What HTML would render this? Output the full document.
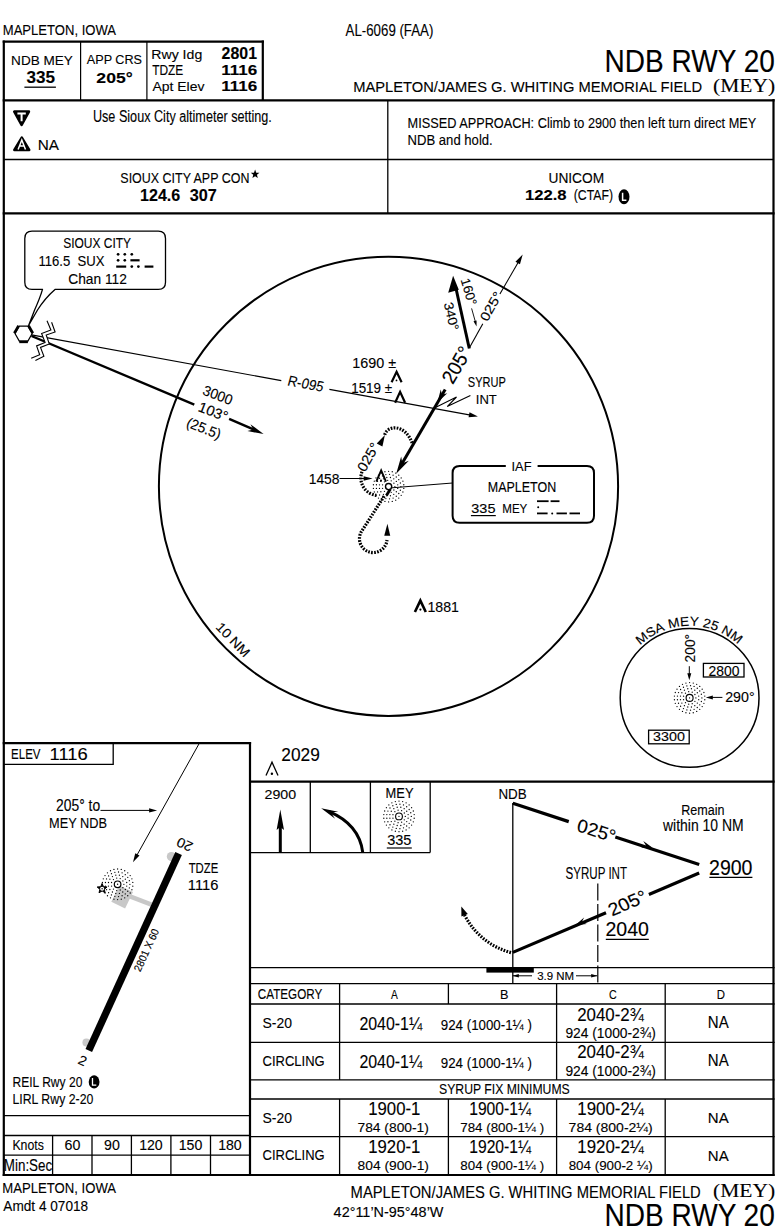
<!DOCTYPE html>
<html><head><meta charset="utf-8"><title>NDB RWY 20 - Mapleton</title>
<style>html,body{margin:0;padding:0;background:#fff;}body{width:778px;height:1232px;overflow:hidden;font-family:"Liberation Sans",sans-serif;}svg{display:block;}</style>
</head><body>
<svg width="778" height="1232" viewBox="0 0 778 1232"><style>text{stroke:#000;stroke-width:0.12px;}</style><line x1="3.8" y1="40.5" x2="3.8" y2="1176" stroke="#000" stroke-width="2.2" />
<line x1="773.5" y1="99" x2="773.5" y2="1176" stroke="#000" stroke-width="2.2" />
<line x1="2.7" y1="41.6" x2="263.9" y2="41.6" stroke="#000" stroke-width="2.2" />
<line x1="262.8" y1="40.5" x2="262.8" y2="100.5" stroke="#000" stroke-width="2.2" />
<line x1="80.6" y1="41.6" x2="80.6" y2="100.5" stroke="#000" stroke-width="1.2" />
<line x1="146.9" y1="41.6" x2="146.9" y2="100.5" stroke="#000" stroke-width="1.2" />
<line x1="2.7" y1="100.4" x2="774.6" y2="100.4" stroke="#000" stroke-width="2.2" />
<line x1="3.8" y1="159.6" x2="773.5" y2="159.6" stroke="#000" stroke-width="1.5" />
<line x1="387.8" y1="100.4" x2="387.8" y2="213.3" stroke="#000" stroke-width="1.3" />
<line x1="2.7" y1="213.3" x2="774.6" y2="213.3" stroke="#000" stroke-width="2.2" />
<text x="2.75" y="34.90" font-family="Liberation Sans" font-size="15.00" font-weight="normal" font-style="normal" textLength="113.29" lengthAdjust="spacingAndGlyphs" fill="#000" >MAPLETON, IOWA</text>
<text x="345.60" y="35.90" font-family="Liberation Sans" font-size="15.65" font-weight="normal" font-style="normal" textLength="87.76" lengthAdjust="spacingAndGlyphs" fill="#000" >AL-6069 (FAA)</text>
<text x="604.46" y="71.70" font-family="Liberation Sans" font-size="30.57" font-weight="normal" font-style="normal" textLength="170.36" lengthAdjust="spacingAndGlyphs" fill="#000" >NDB RWY 20</text>
<text x="353.22" y="92.40" font-family="Liberation Sans" font-size="15.45" font-weight="normal" font-style="normal" textLength="348.95" lengthAdjust="spacingAndGlyphs" fill="#000" >MAPLETON/JAMES G. WHITING MEMORIAL FIELD</text>
<text x="713.03" y="92.00" font-family="Liberation Serif" font-size="18.93" font-weight="normal" font-style="normal" textLength="62.10" lengthAdjust="spacingAndGlyphs" fill="#000" >(MEY)</text>
<text x="11.12" y="65.00" font-family="Liberation Sans" font-size="13.48" font-weight="normal" font-style="normal" textLength="61.77" lengthAdjust="spacingAndGlyphs" fill="#000" >NDB MEY</text>
<text x="26.57" y="83.30" font-family="Liberation Sans" font-size="15.57" font-weight="bold" font-style="normal" textLength="28.51" lengthAdjust="spacingAndGlyphs" fill="#000" >335</text>
<line x1="24.4" y1="87.2" x2="55.9" y2="87.2" stroke="#000" stroke-width="1.3" />
<text x="86.80" y="63.80" font-family="Liberation Sans" font-size="12.57" font-weight="normal" font-style="normal" textLength="55.20" lengthAdjust="spacingAndGlyphs" fill="#000" >APP CRS</text>
<text x="96.38" y="82.60" font-family="Liberation Sans" font-size="15.43" font-weight="bold" font-style="normal" textLength="36.38" lengthAdjust="spacingAndGlyphs" fill="#000" >205°</text>
<text x="151.27" y="59.00" font-family="Liberation Sans" font-size="13.48" font-weight="normal" font-style="normal" textLength="50.98" lengthAdjust="spacingAndGlyphs" fill="#000" >Rwy Idg</text>
<text x="221.64" y="59.10" font-family="Liberation Sans" font-size="15.57" font-weight="bold" font-style="normal" textLength="35.35" lengthAdjust="spacingAndGlyphs" fill="#000" >2801</text>
<text x="152.16" y="74.90" font-family="Liberation Sans" font-size="14.20" font-weight="normal" font-style="normal" textLength="31.13" lengthAdjust="spacingAndGlyphs" fill="#000" >TDZE</text>
<text x="221.18" y="75.00" font-family="Liberation Sans" font-size="15.14" font-weight="bold" font-style="normal" textLength="36.01" lengthAdjust="spacingAndGlyphs" fill="#000" >1116</text>
<text x="152.40" y="90.60" font-family="Liberation Sans" font-size="13.62" font-weight="normal" font-style="normal" textLength="52.06" lengthAdjust="spacingAndGlyphs" fill="#000" >Apt Elev</text>
<text x="221.18" y="90.80" font-family="Liberation Sans" font-size="14.86" font-weight="bold" font-style="normal" textLength="36.01" lengthAdjust="spacingAndGlyphs" fill="#000" >1116</text>
<path d="M14.3,111.6 L28.9,111.6 L21.6,124.9 Z" stroke="#000" stroke-width="2.6" fill="#000" stroke-linejoin="round"/>
<path d="M17.4,113.6 L25.8,113.6 M21.6,113.6 L21.6,121.2" stroke="#fff" stroke-width="2.0" fill="none"/>
<path d="M21.8,137.6 L29.2,150.0 L14.4,150.0 Z" stroke="#000" stroke-width="2.6" fill="#000" stroke-linejoin="round"/>
<path d="M18.1,149.4 L21.8,140.0 L25.5,149.4 M19.4,146.0 L24.2,146.0" stroke="#fff" stroke-width="1.5" fill="none"/>
<text x="92.95" y="122.20" font-family="Liberation Sans" font-size="15.65" font-weight="normal" font-style="normal" textLength="178.91" lengthAdjust="spacingAndGlyphs" fill="#000" >Use Sioux City altimeter setting.</text>
<text x="37.77" y="150.00" font-family="Liberation Sans" font-size="14.49" font-weight="normal" font-style="normal" textLength="21.29" lengthAdjust="spacingAndGlyphs" fill="#000" >NA</text>
<text x="407.58" y="128.20" font-family="Liberation Sans" font-size="13.91" font-weight="normal" font-style="normal" textLength="348.67" lengthAdjust="spacingAndGlyphs" fill="#000" >MISSED APPROACH: Climb to 2900 then left turn direct MEY</text>
<text x="407.55" y="145.10" font-family="Liberation Sans" font-size="13.77" font-weight="normal" font-style="normal" textLength="85.18" lengthAdjust="spacingAndGlyphs" fill="#000" >NDB and hold.</text>
<text x="120.34" y="183.40" font-family="Liberation Sans" font-size="13.71" font-weight="normal" font-style="normal" textLength="129.06" lengthAdjust="spacingAndGlyphs" fill="#000" >SIOUX CITY APP CON</text>
<polygon points="255.10,169.60 256.24,172.64 259.47,172.78 256.94,174.80 257.80,177.92 255.10,176.13 252.40,177.92 253.26,174.80 250.73,172.78 253.96,172.64" fill="#000"/>
<text x="140.04" y="201.20" font-family="Liberation Sans" font-size="16.29" font-weight="bold" font-style="normal" textLength="40.16" lengthAdjust="spacingAndGlyphs" fill="#000" >124.6</text>
<text x="189.79" y="201.20" font-family="Liberation Sans" font-size="16.29" font-weight="bold" font-style="normal" textLength="27.11" lengthAdjust="spacingAndGlyphs" fill="#000" >307</text>
<text x="548.47" y="182.60" font-family="Liberation Sans" font-size="13.71" font-weight="normal" font-style="normal" textLength="55.70" lengthAdjust="spacingAndGlyphs" fill="#000" >UNICOM</text>
<text x="524.90" y="200.40" font-family="Liberation Sans" font-size="15.43" font-weight="bold" font-style="normal" textLength="41.64" lengthAdjust="spacingAndGlyphs" fill="#000" >122.8</text>
<text x="573.77" y="200.40" font-family="Liberation Sans" font-size="13.71" font-weight="normal" font-style="normal" textLength="39.20" lengthAdjust="spacingAndGlyphs" fill="#000" >(CTAF)</text>
<ellipse cx="624.0" cy="196.7" rx="5.5" ry="7.5" fill="#000"/>
<path d="M622.6,192.8 L622.6,200.2 L626.4,200.2" stroke="#fff" stroke-width="1.5" fill="none"/>
<circle cx="388.5" cy="486.3" r="229.6" stroke="#000" stroke-width="2.0" fill="none"/>
<text transform="translate(233.00,639.60) rotate(46.00) skewX(0.00)" x="-21.08" y="4.70" font-family="Liberation Sans" font-size="13.43" font-weight="normal" font-style="normal" textLength="42.30" lengthAdjust="spacingAndGlyphs" fill="#000">10 NM</text>
<path d="M32,231.2 L158.3,231.2 Q165.5,231.2 165.5,238.4 L165.5,282.2 Q165.5,289.4 158.3,289.4 L55,289.4 Q45,298 37.5,310 L28.6,325.5 L34.6,310 Q40,298 42.5,289.4 L32,289.4 Q24.8,289.4 24.8,282.2 L24.8,238.4 Q24.8,231.2 32,231.2 Z" stroke="#000" stroke-width="1.3" fill="#fff" stroke-linejoin="round"/>
<text x="63.16" y="247.80" font-family="Liberation Sans" font-size="14.00" font-weight="normal" font-style="normal" textLength="67.91" lengthAdjust="spacingAndGlyphs" fill="#000" >SIOUX CITY</text>
<text x="38.42" y="266.30" font-family="Liberation Sans" font-size="13.86" font-weight="normal" font-style="normal" textLength="66.05" lengthAdjust="spacingAndGlyphs" fill="#000" >116.5  SUX</text>
<text x="68.31" y="284.40" font-family="Liberation Sans" font-size="14.29" font-weight="normal" font-style="normal" textLength="58.61" lengthAdjust="spacingAndGlyphs" fill="#000" >Chan 112</text>
<circle cx="118.1" cy="254.3" r="1.35" fill="#000"/>
<circle cx="124.8" cy="254.3" r="1.35" fill="#000"/>
<circle cx="131.8" cy="254.3" r="1.35" fill="#000"/>
<circle cx="118.1" cy="260.3" r="1.35" fill="#000"/>
<circle cx="124.8" cy="260.3" r="1.35" fill="#000"/>
<line x1="130.4" y1="260.3" x2="139.6" y2="260.3" stroke="#000" stroke-width="2.2" />
<line x1="116.2" y1="266.6" x2="126.2" y2="266.6" stroke="#000" stroke-width="2.2" />
<circle cx="131.8" cy="266.6" r="1.35" fill="#000"/>
<circle cx="138.4" cy="266.6" r="1.35" fill="#000"/>
<line x1="144.6" y1="266.6" x2="153.4" y2="266.6" stroke="#000" stroke-width="2.2" />
<polygon points="15.00,333.60 19.30,326.15 27.90,326.15 32.20,333.60 27.90,341.05 19.30,341.05" fill="#fff" stroke="#000" stroke-width="1.2"/>
<line x1="14.30717967697245" y1="333.20000000000005" x2="18.607179676972446" y2="325.7521815274539" stroke="#000" stroke-width="2.6" />
<line x1="28.592820323027553" y1="325.7521815274539" x2="32.89282032302756" y2="333.20000000000005" stroke="#000" stroke-width="2.6" />
<line x1="27.900000000000002" y1="341.8478184725462" x2="19.300000000000004" y2="341.8478184725462" stroke="#000" stroke-width="2.6" />
<line x1="31.5" y1="334.9" x2="281.3" y2="380.6" stroke="#000" stroke-width="1.1" />
<line x1="329.4" y1="389.4" x2="472.0" y2="415.4" stroke="#000" stroke-width="1.1" />
<polygon points="477.90,416.40 468.58,417.35 469.51,412.23" fill="#000"/>
<text transform="translate(306.00,383.80) rotate(10.30) skewX(-5.00)" x="-18.31" y="5.00" font-family="Liberation Sans" font-size="14.49" font-weight="normal" font-style="normal" textLength="36.07" lengthAdjust="spacingAndGlyphs" fill="#000">R-095</text>
<line x1="31.5" y1="336.0" x2="194.3" y2="404.6" stroke="#000" stroke-width="2.4" />
<line x1="229.1" y1="418.8" x2="254.0" y2="429.7" stroke="#000" stroke-width="2.4" />
<polygon points="263.60,434.00 247.41,431.11 253.33,429.53 250.44,424.14" fill="#000"/>
<text transform="translate(217.90,395.00) rotate(21.00) skewX(0.00)" x="-15.30" y="5.00" font-family="Liberation Sans" font-size="14.29" font-weight="normal" font-style="normal" textLength="30.52" lengthAdjust="spacingAndGlyphs" fill="#000">3000</text>
<text transform="translate(213.40,411.60) rotate(21.00) skewX(0.00)" x="-15.35" y="5.00" font-family="Liberation Sans" font-size="14.29" font-weight="normal" font-style="normal" textLength="30.47" lengthAdjust="spacingAndGlyphs" fill="#000">103°</text>
<text transform="translate(203.80,428.20) rotate(21.00) skewX(0.00)" x="-17.82" y="5.00" font-family="Liberation Sans" font-size="14.29" font-weight="normal" font-style="normal" textLength="35.67" lengthAdjust="spacingAndGlyphs" fill="#000">(25.5)</text>
<polygon points="47.00,320.80 50.90,330.00 41.60,333.50 45.10,342.40 36.60,345.90 39.70,354.70 31.20,358.20 35.40,360.50 43.90,356.30 40.50,347.40 49.30,343.90 46.20,335.00 55.10,332.00 51.60,322.30" fill="#fff"/>
<polyline points="47.0,320.8 50.9,330.0 41.6,333.5 45.1,342.4 36.6,345.9 39.7,354.7 31.2,358.2" fill="none" stroke="#000" stroke-width="1.1" stroke-linejoin="miter"/>
<polyline points="51.6,322.3 55.1,332.0 46.2,335.0 49.3,343.9 40.5,347.4 43.9,356.3 35.4,360.5" fill="none" stroke="#000" stroke-width="1.1" stroke-linejoin="miter"/>
<text x="352.32" y="368.30" font-family="Liberation Sans" font-size="14.14" font-weight="normal" font-style="normal" textLength="43.86" lengthAdjust="spacingAndGlyphs" fill="#000" >1690 ±</text>
<text x="351.19" y="392.50" font-family="Liberation Sans" font-size="14.00" font-weight="normal" font-style="normal" textLength="40.96" lengthAdjust="spacingAndGlyphs" fill="#000" >1519 ±</text>
<path d="M391.6,382.2 L396.6,371.8 L401.6,382.2" stroke="#000" stroke-width="2.2" fill="none" stroke-linejoin="miter"/>
<circle cx="396.5" cy="380.4" r="0.9" fill="#000"/>
<path d="M395.1,402.8 L400.1,391.8 L405.1,402.8" stroke="#000" stroke-width="2.2" fill="none" stroke-linejoin="miter"/>
<line x1="445.1948051948052" y1="389.4" x2="400.5943722943723" y2="466.0" stroke="#000" stroke-width="3.0" />
<polygon points="396.20,473.80 401.18,456.46 402.35,463.21 408.79,460.87" fill="#000"/>
<polygon points="437.40,402.60 440.74,389.47 442.03,394.76 447.28,393.34" fill="#000"/>
<text transform="translate(456.40,365.00) rotate(-59.79) skewX(0.00)" x="-19.44" y="7.00" font-family="Liberation Sans" font-size="20.00" font-weight="normal" font-style="normal" textLength="39.05" lengthAdjust="spacingAndGlyphs" fill="#000">205°</text>
<line x1="469.3" y1="348.5" x2="456.0" y2="288.5" stroke="#000" stroke-width="3.0" />
<polygon points="453.10,275.80 448.20,292.80 458.80,289.80" fill="#000"/>
<text transform="translate(451.40,316.20) rotate(77.00) skewX(0.00)" x="-14.05" y="4.60" font-family="Liberation Sans" font-size="13.14" font-weight="normal" font-style="normal" textLength="28.35" lengthAdjust="spacingAndGlyphs" fill="#000">340°</text>
<text transform="translate(469.00,291.80) rotate(73.00) skewX(0.00)" x="-14.01" y="4.60" font-family="Liberation Sans" font-size="13.14" font-weight="normal" font-style="normal" textLength="27.79" lengthAdjust="spacingAndGlyphs" fill="#000">160°</text>
<line x1="471.6" y1="308.4" x2="475.6" y2="322.6" stroke="#000" stroke-width="0.9" />
<polygon points="476.60,326.60 473.47,321.24 476.55,320.39" fill="#000"/>
<line x1="469.3" y1="348.0" x2="482.8" y2="323.8" stroke="#000" stroke-width="1.1" />
<line x1="499.9" y1="294.0" x2="520.0" y2="259.2" stroke="#000" stroke-width="1.1" />
<polygon points="522.70,254.40 519.96,264.36 515.46,261.77" fill="#000"/>
<text transform="translate(490.90,306.40) rotate(-60.30) skewX(0.00)" x="-15.61" y="4.60" font-family="Liberation Sans" font-size="13.14" font-weight="normal" font-style="normal" textLength="31.50" lengthAdjust="spacingAndGlyphs" fill="#000">025°</text>
<text x="467.80" y="387.40" font-family="Liberation Sans" font-size="13.71" font-weight="normal" font-style="normal" textLength="38.05" lengthAdjust="spacingAndGlyphs" fill="#000" >SYRUP</text>
<text x="475.82" y="404.40" font-family="Liberation Sans" font-size="13.62" font-weight="normal" font-style="normal" textLength="21.05" lengthAdjust="spacingAndGlyphs" fill="#000" >INT</text>
<polyline points="434.4,407.9 456.5,397.0 447.2,406.6 470.4,395.5" fill="none" stroke="#000" stroke-width="1.1"/>
<g fill="#000"><circle cx="394.90" cy="486.60" r="0.66"/><circle cx="393.90" cy="490.01" r="0.66"/><circle cx="391.22" cy="492.33" r="0.66"/><circle cx="387.70" cy="492.84" r="0.66"/><circle cx="384.47" cy="491.36" r="0.66"/><circle cx="382.56" cy="488.37" r="0.66"/><circle cx="382.56" cy="484.83" r="0.66"/><circle cx="384.47" cy="481.84" r="0.66"/><circle cx="387.70" cy="480.36" r="0.66"/><circle cx="391.22" cy="480.87" r="0.66"/><circle cx="393.90" cy="483.19" r="0.66"/><circle cx="397.72" cy="488.41" r="0.66"/><circle cx="396.33" cy="491.77" r="0.66"/><circle cx="393.77" cy="494.33" r="0.66"/><circle cx="390.41" cy="495.72" r="0.66"/><circle cx="386.79" cy="495.72" r="0.66"/><circle cx="383.43" cy="494.33" r="0.66"/><circle cx="380.87" cy="491.77" r="0.66"/><circle cx="379.48" cy="488.41" r="0.66"/><circle cx="379.48" cy="484.79" r="0.66"/><circle cx="380.87" cy="481.43" r="0.66"/><circle cx="383.43" cy="478.87" r="0.66"/><circle cx="386.79" cy="477.48" r="0.66"/><circle cx="390.41" cy="477.48" r="0.66"/><circle cx="393.77" cy="478.87" r="0.66"/><circle cx="396.33" cy="481.43" r="0.66"/><circle cx="397.72" cy="484.79" r="0.66"/><circle cx="400.35" cy="490.23" r="0.66"/><circle cx="398.76" cy="493.53" r="0.66"/><circle cx="396.27" cy="496.22" r="0.66"/><circle cx="393.09" cy="498.05" r="0.66"/><circle cx="389.52" cy="498.87" r="0.66"/><circle cx="385.86" cy="498.59" r="0.66"/><circle cx="382.45" cy="497.25" r="0.66"/><circle cx="379.58" cy="494.97" r="0.66"/><circle cx="377.52" cy="491.94" r="0.66"/><circle cx="376.44" cy="488.43" r="0.66"/><circle cx="376.44" cy="484.77" r="0.66"/><circle cx="377.52" cy="481.26" r="0.66"/><circle cx="379.58" cy="478.23" r="0.66"/><circle cx="382.45" cy="475.95" r="0.66"/><circle cx="385.86" cy="474.61" r="0.66"/><circle cx="389.52" cy="474.33" r="0.66"/><circle cx="393.09" cy="475.15" r="0.66"/><circle cx="396.27" cy="476.98" r="0.66"/><circle cx="398.76" cy="479.67" r="0.66"/><circle cx="400.35" cy="482.97" r="0.66"/><circle cx="400.90" cy="486.60" r="0.66"/><circle cx="402.91" cy="492.03" r="0.66"/><circle cx="401.19" cy="495.29" r="0.66"/><circle cx="398.75" cy="498.05" r="0.66"/><circle cx="395.71" cy="500.15" r="0.66"/><circle cx="392.26" cy="501.46" r="0.66"/><circle cx="388.60" cy="501.90" r="0.66"/><circle cx="384.94" cy="501.46" r="0.66"/><circle cx="381.49" cy="500.15" r="0.66"/><circle cx="378.45" cy="498.05" r="0.66"/><circle cx="376.01" cy="495.29" r="0.66"/><circle cx="374.29" cy="492.03" r="0.66"/><circle cx="373.41" cy="488.44" r="0.66"/><circle cx="373.41" cy="484.76" r="0.66"/><circle cx="374.29" cy="481.17" r="0.66"/><circle cx="376.01" cy="477.91" r="0.66"/><circle cx="378.45" cy="475.15" r="0.66"/><circle cx="381.49" cy="473.05" r="0.66"/><circle cx="384.94" cy="471.74" r="0.66"/><circle cx="388.60" cy="471.30" r="0.66"/><circle cx="392.26" cy="471.74" r="0.66"/><circle cx="395.71" cy="473.05" r="0.66"/><circle cx="398.75" cy="475.15" r="0.66"/><circle cx="401.19" cy="477.91" r="0.66"/><circle cx="402.91" cy="481.17" r="0.66"/><circle cx="403.79" cy="484.76" r="0.66"/><circle cx="403.79" cy="488.44" r="0.66"/></g>
<line x1="390.4" y1="488.9" x2="386.4" y2="495.4" stroke="#000" stroke-width="2.8" />
<circle cx="388.6" cy="486.6" r="3.1" stroke="#000" stroke-width="1.4" fill="#fff"/>
<path d="M384.7,434.8 C387,425.5 405,423 412.3,443.4" stroke="#000" stroke-width="3.2" fill="none" stroke-dasharray="1.7 1.3" stroke-linecap="butt"/>
<polygon points="384.90,434.90 382.41,446.57 376.74,443.61" fill="#000"/>
<text transform="translate(368.20,457.20) rotate(-60.50) skewX(0.00)" x="-15.09" y="4.90" font-family="Liberation Sans" font-size="14.00" font-weight="normal" font-style="normal" textLength="30.45" lengthAdjust="spacingAndGlyphs" fill="#000">025°</text>
<path d="M362.0,471.8 A17.5 17.5 0 0 0 376.8,495.4" stroke="#000" stroke-width="3.2" fill="none" stroke-dasharray="1.7 1.3" stroke-linecap="butt"/>
<path d="M384.2,496.1 L361.7,531.2 A13.8 13.8 0 1 0 387.0,540.0" stroke="#000" stroke-width="3.2" fill="none" stroke-dasharray="1.7 1.3" stroke-linecap="butt"/>
<polygon points="387.40,523.80 390.25,535.84 384.25,535.76" fill="#000"/>
<text x="308.66" y="484.20" font-family="Liberation Sans" font-size="14.29" font-weight="normal" font-style="normal" textLength="30.89" lengthAdjust="spacingAndGlyphs" fill="#000" >1458</text>
<line x1="339.5" y1="478.5" x2="365" y2="478.5" stroke="#000" stroke-width="1.0" />
<polygon points="372.60,478.50 363.60,480.70 363.60,476.30" fill="#000"/>
<path d="M376.3,481.6 L381.15,470.3 L386.0,481.6" stroke="#000" stroke-width="1.9" fill="none" stroke-linejoin="miter"/>
<circle cx="381.0" cy="480.6" r="1.0" fill="#000"/>
<line x1="392.0" y1="487.8" x2="452.6" y2="483.0" stroke="#000" stroke-width="1.0" />
<path d="M505.8,466 L459.6,466 Q452.6,466 452.6,473 L452.6,515.7 Q452.6,522.7 459.6,522.7 L587,522.7 Q594,522.7 594,515.7 L594,473 Q594,466 587,466 L537.6,466" stroke="#000" stroke-width="2" fill="none"/>
<text x="511.54" y="471.30" font-family="Liberation Sans" font-size="13.48" font-weight="normal" font-style="normal" textLength="19.98" lengthAdjust="spacingAndGlyphs" fill="#000" >IAF</text>
<text x="487.80" y="491.50" font-family="Liberation Sans" font-size="13.71" font-weight="normal" font-style="normal" textLength="68.44" lengthAdjust="spacingAndGlyphs" fill="#000" >MAPLETON</text>
<text x="471.32" y="513.20" font-family="Liberation Sans" font-size="13.43" font-weight="normal" font-style="normal" textLength="24.11" lengthAdjust="spacingAndGlyphs" fill="#000" >335</text>
<line x1="470.9" y1="515.6" x2="495.8" y2="515.6" stroke="#000" stroke-width="1.2" />
<text x="502.27" y="513.20" font-family="Liberation Sans" font-size="13.62" font-weight="normal" font-style="normal" textLength="25.08" lengthAdjust="spacingAndGlyphs" fill="#000" >MEY</text>
<line x1="537.0" y1="501.2" x2="548.6" y2="501.2" stroke="#000" stroke-width="1.8" />
<line x1="550.6" y1="501.2" x2="559.5" y2="501.2" stroke="#000" stroke-width="1.8" />
<circle cx="538.2" cy="507.2" r="1.0" fill="#000"/>
<line x1="537.0" y1="513.4" x2="547.6" y2="513.4" stroke="#000" stroke-width="1.8" />
<circle cx="552.2" cy="513.4" r="1.0" fill="#000"/>
<line x1="556.5" y1="513.4" x2="566.9" y2="513.4" stroke="#000" stroke-width="1.8" />
<line x1="569.5" y1="513.4" x2="580.0" y2="513.4" stroke="#000" stroke-width="1.8" />
<path d="M414.9,612.0 L420.35,600.6 L425.8,612.0" stroke="#000" stroke-width="2.6" fill="none" stroke-linejoin="miter"/>
<circle cx="420.4" cy="609.6" r="1.1" fill="#000"/>
<text x="427.44" y="611.70" font-family="Liberation Sans" font-size="14.71" font-weight="normal" font-style="normal" textLength="31.49" lengthAdjust="spacingAndGlyphs" fill="#000" >1881</text>
<circle cx="689.6" cy="697.9" r="69.4" stroke="#000" stroke-width="1.5" fill="none"/>
<text transform="translate(644.39,641.61) rotate(-38.77) scale(1.077,1)" x="0" y="0" text-anchor="middle" font-family="Liberation Sans" font-size="12.8" fill="#000">M</text>
<text transform="translate(652.88,635.73) rotate(-30.57) scale(1.077,1)" x="0" y="0" text-anchor="middle" font-family="Liberation Sans" font-size="12.8" fill="#000">S</text>
<text transform="translate(661.07,631.57) rotate(-23.27) scale(1.077,1)" x="0" y="0" text-anchor="middle" font-family="Liberation Sans" font-size="12.8" fill="#000">A</text>
<text transform="translate(674.55,627.29) rotate(-12.03) scale(1.077,1)" x="0" y="0" text-anchor="middle" font-family="Liberation Sans" font-size="12.8" fill="#000">M</text>
<text transform="translate(684.78,625.86) rotate(-3.82) scale(1.077,1)" x="0" y="0" text-anchor="middle" font-family="Liberation Sans" font-size="12.8" fill="#000">E</text>
<text transform="translate(693.97,625.83) rotate(3.47) scale(1.077,1)" x="0" y="0" text-anchor="middle" font-family="Liberation Sans" font-size="12.8" fill="#000">Y</text>
<text transform="translate(706.09,627.61) rotate(13.20) scale(1.077,1)" x="0" y="0" text-anchor="middle" font-family="Liberation Sans" font-size="12.8" fill="#000">2</text>
<text transform="translate(713.44,629.75) rotate(19.28) scale(1.077,1)" x="0" y="0" text-anchor="middle" font-family="Liberation Sans" font-size="12.8" fill="#000">5</text>
<text transform="translate(724.95,634.95) rotate(29.31) scale(1.077,1)" x="0" y="0" text-anchor="middle" font-family="Liberation Sans" font-size="12.8" fill="#000">N</text>
<text transform="translate(733.87,640.87) rotate(37.82) scale(1.077,1)" x="0" y="0" text-anchor="middle" font-family="Liberation Sans" font-size="12.8" fill="#000">M</text>
<text transform="translate(689.30,648.20) rotate(-90.00) skewX(0.00)" x="-14.19" y="5.20" font-family="Liberation Sans" font-size="14.86" font-weight="normal" font-style="normal" textLength="28.49" lengthAdjust="spacingAndGlyphs" fill="#000">200°</text>
<line x1="689.3" y1="666.2" x2="689.3" y2="674" stroke="#000" stroke-width="1.0" />
<polygon points="689.30,680.20 687.30,673.20 691.30,673.20" fill="#000"/>
<g fill="#000"><circle cx="695.90" cy="697.90" r="0.66"/><circle cx="694.90" cy="701.31" r="0.66"/><circle cx="692.22" cy="703.63" r="0.66"/><circle cx="688.70" cy="704.14" r="0.66"/><circle cx="685.47" cy="702.66" r="0.66"/><circle cx="683.56" cy="699.67" r="0.66"/><circle cx="683.56" cy="696.13" r="0.66"/><circle cx="685.47" cy="693.14" r="0.66"/><circle cx="688.70" cy="691.66" r="0.66"/><circle cx="692.22" cy="692.17" r="0.66"/><circle cx="694.90" cy="694.49" r="0.66"/><circle cx="698.72" cy="699.71" r="0.66"/><circle cx="697.33" cy="703.07" r="0.66"/><circle cx="694.77" cy="705.63" r="0.66"/><circle cx="691.41" cy="707.02" r="0.66"/><circle cx="687.79" cy="707.02" r="0.66"/><circle cx="684.43" cy="705.63" r="0.66"/><circle cx="681.87" cy="703.07" r="0.66"/><circle cx="680.48" cy="699.71" r="0.66"/><circle cx="680.48" cy="696.09" r="0.66"/><circle cx="681.87" cy="692.73" r="0.66"/><circle cx="684.43" cy="690.17" r="0.66"/><circle cx="687.79" cy="688.78" r="0.66"/><circle cx="691.41" cy="688.78" r="0.66"/><circle cx="694.77" cy="690.17" r="0.66"/><circle cx="697.33" cy="692.73" r="0.66"/><circle cx="698.72" cy="696.09" r="0.66"/><circle cx="701.35" cy="701.53" r="0.66"/><circle cx="699.76" cy="704.83" r="0.66"/><circle cx="697.27" cy="707.52" r="0.66"/><circle cx="694.09" cy="709.35" r="0.66"/><circle cx="690.52" cy="710.17" r="0.66"/><circle cx="686.86" cy="709.89" r="0.66"/><circle cx="683.45" cy="708.55" r="0.66"/><circle cx="680.58" cy="706.27" r="0.66"/><circle cx="678.52" cy="703.24" r="0.66"/><circle cx="677.44" cy="699.73" r="0.66"/><circle cx="677.44" cy="696.07" r="0.66"/><circle cx="678.52" cy="692.56" r="0.66"/><circle cx="680.58" cy="689.53" r="0.66"/><circle cx="683.45" cy="687.25" r="0.66"/><circle cx="686.86" cy="685.91" r="0.66"/><circle cx="690.52" cy="685.63" r="0.66"/><circle cx="694.09" cy="686.45" r="0.66"/><circle cx="697.27" cy="688.28" r="0.66"/><circle cx="699.76" cy="690.97" r="0.66"/><circle cx="701.35" cy="694.27" r="0.66"/><circle cx="701.90" cy="697.90" r="0.66"/><circle cx="703.91" cy="703.33" r="0.66"/><circle cx="702.19" cy="706.59" r="0.66"/><circle cx="699.75" cy="709.35" r="0.66"/><circle cx="696.71" cy="711.45" r="0.66"/><circle cx="693.26" cy="712.76" r="0.66"/><circle cx="689.60" cy="713.20" r="0.66"/><circle cx="685.94" cy="712.76" r="0.66"/><circle cx="682.49" cy="711.45" r="0.66"/><circle cx="679.45" cy="709.35" r="0.66"/><circle cx="677.01" cy="706.59" r="0.66"/><circle cx="675.29" cy="703.33" r="0.66"/><circle cx="674.41" cy="699.74" r="0.66"/><circle cx="674.41" cy="696.06" r="0.66"/><circle cx="675.29" cy="692.47" r="0.66"/><circle cx="677.01" cy="689.21" r="0.66"/><circle cx="679.45" cy="686.45" r="0.66"/><circle cx="682.49" cy="684.35" r="0.66"/><circle cx="685.94" cy="683.04" r="0.66"/><circle cx="689.60" cy="682.60" r="0.66"/><circle cx="693.26" cy="683.04" r="0.66"/><circle cx="696.71" cy="684.35" r="0.66"/><circle cx="699.75" cy="686.45" r="0.66"/><circle cx="702.19" cy="689.21" r="0.66"/><circle cx="703.91" cy="692.47" r="0.66"/><circle cx="704.79" cy="696.06" r="0.66"/><circle cx="704.79" cy="699.74" r="0.66"/></g>
<circle cx="689.6" cy="697.9" r="3.5" stroke="#000" stroke-width="1.1" fill="#fff"/>
<circle cx="689.6" cy="697.9" r="0.6" fill="#000"/>
<line x1="722.4" y1="697.4" x2="712" y2="697.4" stroke="#000" stroke-width="1.0" />
<polygon points="705.80,697.40 712.80,695.40 712.80,699.40" fill="#000"/>
<text x="725.19" y="702.30" font-family="Liberation Sans" font-size="14.43" font-weight="normal" font-style="normal" textLength="29.44" lengthAdjust="spacingAndGlyphs" fill="#000" >290°</text>
<rect x="703.4" y="663.4" width="40.6" height="13.6" stroke="#000" stroke-width="1.3" fill="none"/>
<text x="708.50" y="676.00" font-family="Liberation Sans" font-size="15.14" font-weight="normal" font-style="normal" textLength="30.98" lengthAdjust="spacingAndGlyphs" fill="#000" >2800</text>
<rect x="648.6" y="730.2" width="40.6" height="13.6" stroke="#000" stroke-width="1.3" fill="none"/>
<text x="653.03" y="740.90" font-family="Liberation Sans" font-size="13.00" font-weight="normal" font-style="normal" textLength="31.87" lengthAdjust="spacingAndGlyphs" fill="#000" >3300</text>
<line x1="2.7" y1="743.2" x2="251.1" y2="743.2" stroke="#000" stroke-width="2.2" />
<line x1="250.0" y1="742.1" x2="250.0" y2="1176" stroke="#000" stroke-width="2.2" />
<line x1="250.0" y1="781.6" x2="774.6" y2="781.6" stroke="#000" stroke-width="2.2" />
<path d="M3.8,764.3 L113.2,764.3 L113.2,743.2" stroke="#000" stroke-width="1.3" fill="none"/>
<text x="11.08" y="759.00" font-family="Liberation Sans" font-size="14.78" font-weight="normal" font-style="normal" textLength="29.40" lengthAdjust="spacingAndGlyphs" fill="#000" >ELEV</text>
<text x="49.62" y="760.00" font-family="Liberation Sans" font-size="17.14" font-weight="normal" font-style="normal" textLength="38.14" lengthAdjust="spacingAndGlyphs" fill="#000" >1116</text>
<line x1="198.9" y1="744.0" x2="136.0" y2="856.8" stroke="#000" stroke-width="1.0" />
<polygon points="133.00,862.20 135.29,853.17 139.48,855.51" fill="#000"/>
<text x="56.11" y="811.20" font-family="Liberation Sans" font-size="15.71" font-weight="normal" font-style="normal" textLength="44.05" lengthAdjust="spacingAndGlyphs" fill="#000" >205° to</text>
<line x1="100.5" y1="810.4" x2="150" y2="810.4" stroke="#000" stroke-width="1.0" />
<polygon points="157.10,810.40 149.10,812.60 149.10,808.20" fill="#000"/>
<text x="49.08" y="827.60" font-family="Liberation Sans" font-size="14.49" font-weight="normal" font-style="normal" textLength="57.90" lengthAdjust="spacingAndGlyphs" fill="#000" >MEY NDB</text>
<polygon points="111.3,901.8 125.1,908.4 133.0,892.0 119.5,885.5" fill="#c8c8c8"/>
<line x1="128" y1="895.6" x2="151.5" y2="904.6" stroke="#c8c8c8" stroke-width="4.4"/>
<circle cx="171.4" cy="856.6" r="4.6" fill="#c8c8c8"/>
<circle cx="86.4" cy="1042.6" r="4.0" fill="#c8c8c8"/>
<line x1="178.6" y1="853.6" x2="88.8" y2="1050.4" stroke="#000" stroke-width="7.2" />
<text transform="translate(146.40,950.00) rotate(-65.50) skewX(0.00)" x="-23.00" y="3.80" font-family="Liberation Sans" font-size="10.86" font-weight="normal" font-style="normal" textLength="45.85" lengthAdjust="spacingAndGlyphs" fill="#000">2801 X 60</text>
<text transform="translate(184.60,844.50) rotate(204.60) skewX(0.00)" x="-8.23" y="4.75" font-family="Liberation Sans" font-size="13.57" font-weight="normal" font-style="normal" textLength="16.28" lengthAdjust="spacingAndGlyphs" fill="#000">20</text>
<text transform="translate(82.60,1060.60) rotate(24.60) skewX(0.00)" x="-3.96" y="4.75" font-family="Liberation Sans" font-size="13.57" font-weight="normal" font-style="normal" textLength="7.95" lengthAdjust="spacingAndGlyphs" fill="#000">2</text>
<text x="188.67" y="873.00" font-family="Liberation Sans" font-size="13.91" font-weight="normal" font-style="normal" textLength="29.59" lengthAdjust="spacingAndGlyphs" fill="#000" >TDZE</text>
<text x="187.79" y="889.80" font-family="Liberation Sans" font-size="14.29" font-weight="normal" font-style="normal" textLength="30.61" lengthAdjust="spacingAndGlyphs" fill="#000" >1116</text>
<g fill="#000"><circle cx="123.90" cy="884.30" r="0.66"/><circle cx="122.90" cy="887.71" r="0.66"/><circle cx="120.22" cy="890.03" r="0.66"/><circle cx="116.70" cy="890.54" r="0.66"/><circle cx="113.47" cy="889.06" r="0.66"/><circle cx="111.56" cy="886.07" r="0.66"/><circle cx="111.56" cy="882.53" r="0.66"/><circle cx="113.47" cy="879.54" r="0.66"/><circle cx="116.70" cy="878.06" r="0.66"/><circle cx="120.22" cy="878.57" r="0.66"/><circle cx="122.90" cy="880.89" r="0.66"/><circle cx="126.72" cy="886.11" r="0.66"/><circle cx="125.33" cy="889.47" r="0.66"/><circle cx="122.77" cy="892.03" r="0.66"/><circle cx="119.41" cy="893.42" r="0.66"/><circle cx="115.79" cy="893.42" r="0.66"/><circle cx="112.43" cy="892.03" r="0.66"/><circle cx="109.87" cy="889.47" r="0.66"/><circle cx="108.48" cy="886.11" r="0.66"/><circle cx="108.48" cy="882.49" r="0.66"/><circle cx="109.87" cy="879.13" r="0.66"/><circle cx="112.43" cy="876.57" r="0.66"/><circle cx="115.79" cy="875.18" r="0.66"/><circle cx="119.41" cy="875.18" r="0.66"/><circle cx="122.77" cy="876.57" r="0.66"/><circle cx="125.33" cy="879.13" r="0.66"/><circle cx="126.72" cy="882.49" r="0.66"/><circle cx="129.35" cy="887.93" r="0.66"/><circle cx="127.76" cy="891.23" r="0.66"/><circle cx="125.27" cy="893.92" r="0.66"/><circle cx="122.09" cy="895.75" r="0.66"/><circle cx="118.52" cy="896.57" r="0.66"/><circle cx="114.86" cy="896.29" r="0.66"/><circle cx="111.45" cy="894.95" r="0.66"/><circle cx="108.58" cy="892.67" r="0.66"/><circle cx="106.52" cy="889.64" r="0.66"/><circle cx="105.44" cy="886.13" r="0.66"/><circle cx="105.44" cy="882.47" r="0.66"/><circle cx="106.52" cy="878.96" r="0.66"/><circle cx="108.58" cy="875.93" r="0.66"/><circle cx="111.45" cy="873.65" r="0.66"/><circle cx="114.86" cy="872.31" r="0.66"/><circle cx="118.52" cy="872.03" r="0.66"/><circle cx="122.09" cy="872.85" r="0.66"/><circle cx="125.27" cy="874.68" r="0.66"/><circle cx="127.76" cy="877.37" r="0.66"/><circle cx="129.35" cy="880.67" r="0.66"/><circle cx="129.90" cy="884.30" r="0.66"/><circle cx="131.91" cy="889.73" r="0.66"/><circle cx="130.19" cy="892.99" r="0.66"/><circle cx="127.75" cy="895.75" r="0.66"/><circle cx="124.71" cy="897.85" r="0.66"/><circle cx="121.26" cy="899.16" r="0.66"/><circle cx="117.60" cy="899.60" r="0.66"/><circle cx="113.94" cy="899.16" r="0.66"/><circle cx="110.49" cy="897.85" r="0.66"/><circle cx="107.45" cy="895.75" r="0.66"/><circle cx="105.01" cy="892.99" r="0.66"/><circle cx="103.29" cy="889.73" r="0.66"/><circle cx="102.41" cy="886.14" r="0.66"/><circle cx="102.41" cy="882.46" r="0.66"/><circle cx="103.29" cy="878.87" r="0.66"/><circle cx="105.01" cy="875.61" r="0.66"/><circle cx="107.45" cy="872.85" r="0.66"/><circle cx="110.49" cy="870.75" r="0.66"/><circle cx="113.94" cy="869.44" r="0.66"/><circle cx="117.60" cy="869.00" r="0.66"/><circle cx="121.26" cy="869.44" r="0.66"/><circle cx="124.71" cy="870.75" r="0.66"/><circle cx="127.75" cy="872.85" r="0.66"/><circle cx="130.19" cy="875.61" r="0.66"/><circle cx="131.91" cy="878.87" r="0.66"/><circle cx="132.79" cy="882.46" r="0.66"/><circle cx="132.79" cy="886.14" r="0.66"/></g>
<circle cx="117.6" cy="884.3" r="3.3" stroke="#000" stroke-width="1.2" fill="#fff"/>
<circle cx="117.6" cy="884.3" r="0.7" fill="#000"/>
<polygon points="102.10,883.40 103.48,886.71 107.05,886.99 104.33,889.32 105.16,892.81 102.10,890.94 99.04,892.81 99.87,889.32 97.15,886.99 100.72,886.71" fill="#000" stroke="#000" stroke-width="1.0" stroke-linejoin="round"/>
<circle cx="102.1" cy="888.8000000000001" r="2.0" stroke="none" stroke-width="0" fill="#fff"/>
<circle cx="102.1" cy="888.8000000000001" r="0.7" fill="#000"/>
<text x="12.44" y="1087.00" font-family="Liberation Sans" font-size="14.49" font-weight="normal" font-style="normal" textLength="69.93" lengthAdjust="spacingAndGlyphs" fill="#000" >REIL Rwy 20</text>
<ellipse cx="94.1" cy="1081.9" rx="5.4" ry="6.6" fill="#000"/>
<path d="M92.5,1078 L92.5,1085.2 L96.3,1085.2" stroke="#fff" stroke-width="1.3" fill="none"/>
<text x="12.42" y="1104.30" font-family="Liberation Sans" font-size="15.51" font-weight="normal" font-style="normal" textLength="80.94" lengthAdjust="spacingAndGlyphs" fill="#000" >LIRL Rwy 2-20</text>
<line x1="3.8" y1="1115.6" x2="250" y2="1115.6" stroke="#000" stroke-width="1.3" />
<line x1="3.8" y1="1135.5" x2="250" y2="1135.5" stroke="#000" stroke-width="1.3" />
<line x1="3.8" y1="1155.1" x2="250" y2="1155.1" stroke="#000" stroke-width="1.3" />
<line x1="52.6" y1="1135.5" x2="52.6" y2="1175" stroke="#000" stroke-width="1.3" />
<line x1="92.0" y1="1135.5" x2="92.0" y2="1175" stroke="#000" stroke-width="1.3" />
<line x1="131.4" y1="1135.5" x2="131.4" y2="1175" stroke="#000" stroke-width="1.3" />
<line x1="170.9" y1="1135.5" x2="170.9" y2="1175" stroke="#000" stroke-width="1.3" />
<line x1="210.5" y1="1135.5" x2="210.5" y2="1175" stroke="#000" stroke-width="1.3" />
<text x="12.42" y="1150.00" font-family="Liberation Sans" font-size="15.36" font-weight="normal" font-style="normal" textLength="31.44" lengthAdjust="spacingAndGlyphs" fill="#000" >Knots</text>
<text x="64.49" y="1150.20" font-family="Liberation Sans" font-size="15.14" font-weight="normal" font-style="normal" textLength="15.84" lengthAdjust="spacingAndGlyphs" fill="#000" >60</text>
<text x="104.06" y="1150.20" font-family="Liberation Sans" font-size="15.14" font-weight="normal" font-style="normal" textLength="15.77" lengthAdjust="spacingAndGlyphs" fill="#000" >90</text>
<text x="139.14" y="1150.20" font-family="Liberation Sans" font-size="15.14" font-weight="normal" font-style="normal" textLength="23.61" lengthAdjust="spacingAndGlyphs" fill="#000" >120</text>
<text x="178.74" y="1150.20" font-family="Liberation Sans" font-size="15.14" font-weight="normal" font-style="normal" textLength="23.61" lengthAdjust="spacingAndGlyphs" fill="#000" >150</text>
<text x="218.14" y="1150.20" font-family="Liberation Sans" font-size="15.14" font-weight="normal" font-style="normal" textLength="23.61" lengthAdjust="spacingAndGlyphs" fill="#000" >180</text>
<text x="3.83" y="1171.00" font-family="Liberation Sans" font-size="15.65" font-weight="normal" font-style="normal" textLength="48.34" lengthAdjust="spacingAndGlyphs" fill="#000" >Min:Sec</text>
<text x="281.33" y="760.90" font-family="Liberation Sans" font-size="17.43" font-weight="normal" font-style="normal" textLength="38.54" lengthAdjust="spacingAndGlyphs" fill="#000" >2029</text>
<path d="M266.0,775.6 L272.0,762.2 L278.0,775.6" stroke="#000" stroke-width="1.3" fill="none" />
<circle cx="271.9" cy="773.8" r="1.2" fill="#000"/>
<line x1="250" y1="852.6" x2="430.2" y2="852.6" stroke="#000" stroke-width="1.3" />
<line x1="310.3" y1="781.6" x2="310.3" y2="852.6" stroke="#000" stroke-width="1.3" />
<line x1="370.4" y1="781.6" x2="370.4" y2="852.6" stroke="#000" stroke-width="1.3" />
<line x1="430.2" y1="781.6" x2="430.2" y2="852.6" stroke="#000" stroke-width="1.3" />
<text x="264.49" y="798.80" font-family="Liberation Sans" font-size="13.57" font-weight="normal" font-style="normal" textLength="31.60" lengthAdjust="spacingAndGlyphs" fill="#000" >2900</text>
<line x1="280.3" y1="852" x2="280.3" y2="822" stroke="#000" stroke-width="3.0" />
<polygon points="280.30,809.60 276.60,830.00 280.30,827.00 284.00,830.00" fill="#000"/>
<path d="M362.8,852.6 C361,838 354,822 328.5,811.4" stroke="#000" stroke-width="3.0" fill="none" />
<polygon points="321.20,808.20 338.24,811.80 330.79,812.58 335.09,818.72" fill="#000"/>
<text x="385.57" y="797.50" font-family="Liberation Sans" font-size="14.20" font-weight="normal" font-style="normal" textLength="27.92" lengthAdjust="spacingAndGlyphs" fill="#000" >MEY</text>
<g fill="#000"><circle cx="405.30" cy="816.40" r="0.66"/><circle cx="404.30" cy="819.81" r="0.66"/><circle cx="401.62" cy="822.13" r="0.66"/><circle cx="398.10" cy="822.64" r="0.66"/><circle cx="394.87" cy="821.16" r="0.66"/><circle cx="392.96" cy="818.17" r="0.66"/><circle cx="392.96" cy="814.63" r="0.66"/><circle cx="394.87" cy="811.64" r="0.66"/><circle cx="398.10" cy="810.16" r="0.66"/><circle cx="401.62" cy="810.67" r="0.66"/><circle cx="404.30" cy="812.99" r="0.66"/><circle cx="408.12" cy="818.21" r="0.66"/><circle cx="406.73" cy="821.57" r="0.66"/><circle cx="404.17" cy="824.13" r="0.66"/><circle cx="400.81" cy="825.52" r="0.66"/><circle cx="397.19" cy="825.52" r="0.66"/><circle cx="393.83" cy="824.13" r="0.66"/><circle cx="391.27" cy="821.57" r="0.66"/><circle cx="389.88" cy="818.21" r="0.66"/><circle cx="389.88" cy="814.59" r="0.66"/><circle cx="391.27" cy="811.23" r="0.66"/><circle cx="393.83" cy="808.67" r="0.66"/><circle cx="397.19" cy="807.28" r="0.66"/><circle cx="400.81" cy="807.28" r="0.66"/><circle cx="404.17" cy="808.67" r="0.66"/><circle cx="406.73" cy="811.23" r="0.66"/><circle cx="408.12" cy="814.59" r="0.66"/><circle cx="410.75" cy="820.03" r="0.66"/><circle cx="409.16" cy="823.33" r="0.66"/><circle cx="406.67" cy="826.02" r="0.66"/><circle cx="403.49" cy="827.85" r="0.66"/><circle cx="399.92" cy="828.67" r="0.66"/><circle cx="396.26" cy="828.39" r="0.66"/><circle cx="392.85" cy="827.05" r="0.66"/><circle cx="389.98" cy="824.77" r="0.66"/><circle cx="387.92" cy="821.74" r="0.66"/><circle cx="386.84" cy="818.23" r="0.66"/><circle cx="386.84" cy="814.57" r="0.66"/><circle cx="387.92" cy="811.06" r="0.66"/><circle cx="389.98" cy="808.03" r="0.66"/><circle cx="392.85" cy="805.75" r="0.66"/><circle cx="396.26" cy="804.41" r="0.66"/><circle cx="399.92" cy="804.13" r="0.66"/><circle cx="403.49" cy="804.95" r="0.66"/><circle cx="406.67" cy="806.78" r="0.66"/><circle cx="409.16" cy="809.47" r="0.66"/><circle cx="410.75" cy="812.77" r="0.66"/><circle cx="411.30" cy="816.40" r="0.66"/><circle cx="413.31" cy="821.83" r="0.66"/><circle cx="411.59" cy="825.09" r="0.66"/><circle cx="409.15" cy="827.85" r="0.66"/><circle cx="406.11" cy="829.95" r="0.66"/><circle cx="402.66" cy="831.26" r="0.66"/><circle cx="399.00" cy="831.70" r="0.66"/><circle cx="395.34" cy="831.26" r="0.66"/><circle cx="391.89" cy="829.95" r="0.66"/><circle cx="388.85" cy="827.85" r="0.66"/><circle cx="386.41" cy="825.09" r="0.66"/><circle cx="384.69" cy="821.83" r="0.66"/><circle cx="383.81" cy="818.24" r="0.66"/><circle cx="383.81" cy="814.56" r="0.66"/><circle cx="384.69" cy="810.97" r="0.66"/><circle cx="386.41" cy="807.71" r="0.66"/><circle cx="388.85" cy="804.95" r="0.66"/><circle cx="391.89" cy="802.85" r="0.66"/><circle cx="395.34" cy="801.54" r="0.66"/><circle cx="399.00" cy="801.10" r="0.66"/><circle cx="402.66" cy="801.54" r="0.66"/><circle cx="406.11" cy="802.85" r="0.66"/><circle cx="409.15" cy="804.95" r="0.66"/><circle cx="411.59" cy="807.71" r="0.66"/><circle cx="413.31" cy="810.97" r="0.66"/><circle cx="414.19" cy="814.56" r="0.66"/><circle cx="414.19" cy="818.24" r="0.66"/></g>
<circle cx="399.0" cy="816.4" r="3.4" stroke="#000" stroke-width="1.1" fill="#fff"/>
<circle cx="399.0" cy="816.4" r="0.6" fill="#000"/>
<text x="387.22" y="845.40" font-family="Liberation Sans" font-size="14.86" font-weight="normal" font-style="normal" textLength="24.21" lengthAdjust="spacingAndGlyphs" fill="#000" >335</text>
<line x1="386.8" y1="848.0" x2="411.8" y2="848.0" stroke="#000" stroke-width="1.2" />
<text x="498.43" y="798.70" font-family="Liberation Sans" font-size="14.06" font-weight="normal" font-style="normal" textLength="28.26" lengthAdjust="spacingAndGlyphs" fill="#000" >NDB</text>
<line x1="512.8" y1="803.0" x2="512.8" y2="983.6" stroke="#000" stroke-width="1.3" />
<line x1="512.8" y1="803.2" x2="568.72" y2="821.62" stroke="#000" stroke-width="3.2" />
<line x1="615.32" y1="836.97" x2="699.2" y2="864.6" stroke="#000" stroke-width="3.2" />
<polygon points="652.60,847.80 643.28,840.94 646.12,845.67 641.03,847.78" fill="#000"/>
<text transform="translate(596.40,830.60) rotate(18.20) skewX(4.00)" x="-19.77" y="6.40" font-family="Liberation Sans" font-size="18.29" font-weight="normal" font-style="normal" textLength="39.90" lengthAdjust="spacingAndGlyphs" fill="#000">025°</text>
<line x1="699.2" y1="873.0" x2="648.8720000000001" y2="894.438" stroke="#000" stroke-width="3.2" />
<line x1="606.0" y1="912.7" x2="512.8" y2="952.4" stroke="#000" stroke-width="3.2" />
<polygon points="575.40,925.00 584.11,917.38 581.67,922.33 586.93,924.00" fill="#000"/>
<text transform="translate(627.40,903.00) rotate(-23.00) skewX(4.00)" x="-19.97" y="6.40" font-family="Liberation Sans" font-size="18.29" font-weight="normal" font-style="normal" textLength="40.10" lengthAdjust="spacingAndGlyphs" fill="#000">205°</text>
<text x="681.20" y="814.80" font-family="Liberation Sans" font-size="13.91" font-weight="normal" font-style="normal" textLength="43.23" lengthAdjust="spacingAndGlyphs" fill="#000" >Remain</text>
<text x="663.00" y="831.00" font-family="Liberation Sans" font-size="15.94" font-weight="normal" font-style="normal" textLength="80.58" lengthAdjust="spacingAndGlyphs" fill="#000" >within 10 NM</text>
<text x="709.02" y="874.60" font-family="Liberation Sans" font-size="21.43" font-weight="normal" font-style="normal" textLength="43.45" lengthAdjust="spacingAndGlyphs" fill="#000" >2900</text>
<line x1="709.4" y1="877.4" x2="752.4" y2="877.4" stroke="#000" stroke-width="1.3" />
<text x="565.48" y="879.00" font-family="Liberation Sans" font-size="16.43" font-weight="normal" font-style="normal" textLength="61.57" lengthAdjust="spacingAndGlyphs" fill="#000" >SYRUP INT</text>
<line x1="597.8" y1="883.6" x2="597.8" y2="983.6" stroke="#000" stroke-width="1.2" stroke-dasharray="17 3.5"/>
<text x="605.42" y="936.40" font-family="Liberation Sans" font-size="20.57" font-weight="normal" font-style="normal" textLength="43.45" lengthAdjust="spacingAndGlyphs" fill="#000" >2040</text>
<line x1="605.8" y1="939.4" x2="648.8" y2="939.4" stroke="#000" stroke-width="1.3" />
<path d="M511.0,952.6 Q480,944 464.5,915" stroke="#000" stroke-width="3.2" fill="none" stroke-dasharray="1.7 1.3"/>
<polygon points="461.30,906.40 467.81,914.11 461.43,916.49" fill="#000"/>
<line x1="250" y1="967.6" x2="774.6" y2="967.6" stroke="#000" stroke-width="1.3" />
<rect x="486.4" y="967.6" width="47.4" height="5.0" fill="#000"/>
<line x1="512.8" y1="975.8" x2="532" y2="975.8" stroke="#000" stroke-width="1.0" />
<line x1="576" y1="975.8" x2="597.2" y2="975.8" stroke="#000" stroke-width="1.0" />
<polygon points="512.80,975.80 518.80,974.00 518.80,977.60" fill="#000"/>
<polygon points="597.20,975.80 591.20,977.60 591.20,974.00" fill="#000"/>
<text x="537.24" y="980.00" font-family="Liberation Sans" font-size="10.57" font-weight="normal" font-style="normal" textLength="36.91" lengthAdjust="spacingAndGlyphs" fill="#000" >3.9 NM</text>
<line x1="250" y1="983.6" x2="774.6" y2="983.6" stroke="#000" stroke-width="1.3" />
<line x1="250" y1="1004.0" x2="774.6" y2="1004.0" stroke="#000" stroke-width="1.3" />
<line x1="250" y1="1042.3" x2="774.6" y2="1042.3" stroke="#000" stroke-width="1.3" />
<line x1="250" y1="1079.8" x2="774.6" y2="1079.8" stroke="#000" stroke-width="1.3" />
<line x1="250" y1="1099.0" x2="774.6" y2="1099.0" stroke="#000" stroke-width="1.3" />
<line x1="250" y1="1136.6" x2="774.6" y2="1136.6" stroke="#000" stroke-width="1.3" />
<line x1="2.7" y1="1175.0" x2="774.6" y2="1175.0" stroke="#000" stroke-width="2.2" />
<line x1="339.6" y1="983.6" x2="339.6" y2="1079.8" stroke="#000" stroke-width="1.3" />
<line x1="339.6" y1="1099.0" x2="339.6" y2="1175" stroke="#000" stroke-width="1.3" />
<line x1="556.6" y1="983.6" x2="556.6" y2="1079.8" stroke="#000" stroke-width="1.3" />
<line x1="556.6" y1="1099.0" x2="556.6" y2="1175" stroke="#000" stroke-width="1.3" />
<line x1="665.2" y1="983.6" x2="665.2" y2="1079.8" stroke="#000" stroke-width="1.3" />
<line x1="665.2" y1="1099.0" x2="665.2" y2="1175" stroke="#000" stroke-width="1.3" />
<line x1="448.4" y1="983.6" x2="448.4" y2="1004.0" stroke="#000" stroke-width="1.3" />
<line x1="448.4" y1="1099.0" x2="448.4" y2="1175" stroke="#000" stroke-width="1.3" />
<text x="257.82" y="998.80" font-family="Liberation Sans" font-size="13.71" font-weight="normal" font-style="normal" textLength="64.41" lengthAdjust="spacingAndGlyphs" fill="#000" >CATEGORY</text>
<text x="391.10" y="998.90" font-family="Liberation Sans" font-size="12.61" font-weight="normal" font-style="normal" textLength="6.82" lengthAdjust="spacingAndGlyphs" fill="#000" >A</text>
<text x="500.08" y="998.90" font-family="Liberation Sans" font-size="12.61" font-weight="normal" font-style="normal" textLength="8.48" lengthAdjust="spacingAndGlyphs" fill="#000" >B</text>
<text x="609.06" y="998.90" font-family="Liberation Sans" font-size="12.43" font-weight="normal" font-style="normal" textLength="7.73" lengthAdjust="spacingAndGlyphs" fill="#000" >C</text>
<text x="716.69" y="998.90" font-family="Liberation Sans" font-size="12.61" font-weight="normal" font-style="normal" textLength="8.25" lengthAdjust="spacingAndGlyphs" fill="#000" >D</text>
<text x="262.57" y="1028.20" font-family="Liberation Sans" font-size="15.14" font-weight="normal" font-style="normal" textLength="29.45" lengthAdjust="spacingAndGlyphs" fill="#000" >S-20</text>
<text x="262.55" y="1066.20" font-family="Liberation Sans" font-size="15.14" font-weight="normal" font-style="normal" textLength="62.10" lengthAdjust="spacingAndGlyphs" fill="#000" >CIRCLING</text>
<text x="359.40" y="1030.20" font-family="Liberation Sans" font-size="19.14" font-weight="normal" font-style="normal" textLength="62.80" lengthAdjust="spacingAndGlyphs" fill="#000" >2040-1¼</text>
<text x="440.80" y="1030.20" font-family="Liberation Sans" font-size="14.57" font-weight="normal" font-style="normal" textLength="91.04" lengthAdjust="spacingAndGlyphs" fill="#000" >924 (1000-1¼ )</text>
<text x="359.40" y="1067.60" font-family="Liberation Sans" font-size="19.14" font-weight="normal" font-style="normal" textLength="62.80" lengthAdjust="spacingAndGlyphs" fill="#000" >2040-1¼</text>
<text x="440.80" y="1067.60" font-family="Liberation Sans" font-size="14.57" font-weight="normal" font-style="normal" textLength="91.04" lengthAdjust="spacingAndGlyphs" fill="#000" >924 (1000-1¼ )</text>
<text x="577.16" y="1020.80" font-family="Liberation Sans" font-size="18.29" font-weight="normal" font-style="normal" textLength="66.64" lengthAdjust="spacingAndGlyphs" fill="#000" >2040-2¾</text>
<text x="565.38" y="1038.40" font-family="Liberation Sans" font-size="14.86" font-weight="normal" font-style="normal" textLength="90.52" lengthAdjust="spacingAndGlyphs" fill="#000" >924 (1000-2¾)</text>
<text x="577.16" y="1058.40" font-family="Liberation Sans" font-size="18.29" font-weight="normal" font-style="normal" textLength="66.64" lengthAdjust="spacingAndGlyphs" fill="#000" >2040-2¾</text>
<text x="565.38" y="1076.00" font-family="Liberation Sans" font-size="14.86" font-weight="normal" font-style="normal" textLength="90.52" lengthAdjust="spacingAndGlyphs" fill="#000" >924 (1000-2¾)</text>
<text x="707.80" y="1028.40" font-family="Liberation Sans" font-size="16.23" font-weight="normal" font-style="normal" textLength="20.86" lengthAdjust="spacingAndGlyphs" fill="#000" >NA</text>
<text x="707.80" y="1065.80" font-family="Liberation Sans" font-size="16.23" font-weight="normal" font-style="normal" textLength="20.86" lengthAdjust="spacingAndGlyphs" fill="#000" >NA</text>
<text x="439.05" y="1094.40" font-family="Liberation Sans" font-size="14.29" font-weight="normal" font-style="normal" textLength="130.70" lengthAdjust="spacingAndGlyphs" fill="#000" >SYRUP FIX MINIMUMS</text>
<text x="262.57" y="1123.00" font-family="Liberation Sans" font-size="14.86" font-weight="normal" font-style="normal" textLength="29.45" lengthAdjust="spacingAndGlyphs" fill="#000" >S-20</text>
<text x="262.55" y="1160.40" font-family="Liberation Sans" font-size="14.86" font-weight="normal" font-style="normal" textLength="62.10" lengthAdjust="spacingAndGlyphs" fill="#000" >CIRCLING</text>
<text x="368.25" y="1114.80" font-family="Liberation Sans" font-size="17.86" font-weight="normal" font-style="normal" textLength="52.09" lengthAdjust="spacingAndGlyphs" fill="#000" >1900-1</text>
<text x="357.51" y="1132.00" font-family="Liberation Sans" font-size="12.57" font-weight="normal" font-style="normal" textLength="71.39" lengthAdjust="spacingAndGlyphs" fill="#000" >784 (800-1)</text>
<text x="469.23" y="1114.80" font-family="Liberation Sans" font-size="17.86" font-weight="normal" font-style="normal" textLength="61.78" lengthAdjust="spacingAndGlyphs" fill="#000" >1900-1¼</text>
<text x="460.23" y="1132.00" font-family="Liberation Sans" font-size="12.57" font-weight="normal" font-style="normal" textLength="83.90" lengthAdjust="spacingAndGlyphs" fill="#000" >784 (800-1¼ )</text>
<text x="577.34" y="1114.80" font-family="Liberation Sans" font-size="17.86" font-weight="normal" font-style="normal" textLength="66.46" lengthAdjust="spacingAndGlyphs" fill="#000" >1900-2¼</text>
<text x="568.60" y="1132.00" font-family="Liberation Sans" font-size="12.57" font-weight="normal" font-style="normal" textLength="84.10" lengthAdjust="spacingAndGlyphs" fill="#000" >784 (800-2¼)</text>
<text x="707.80" y="1122.75" font-family="Liberation Sans" font-size="14.78" font-weight="normal" font-style="normal" textLength="20.86" lengthAdjust="spacingAndGlyphs" fill="#000" >NA</text>
<text x="368.25" y="1153.40" font-family="Liberation Sans" font-size="17.43" font-weight="normal" font-style="normal" textLength="52.09" lengthAdjust="spacingAndGlyphs" fill="#000" >1920-1</text>
<text x="357.58" y="1170.20" font-family="Liberation Sans" font-size="13.43" font-weight="normal" font-style="normal" textLength="71.32" lengthAdjust="spacingAndGlyphs" fill="#000" >804 (900-1)</text>
<text x="469.23" y="1153.40" font-family="Liberation Sans" font-size="17.43" font-weight="normal" font-style="normal" textLength="61.78" lengthAdjust="spacingAndGlyphs" fill="#000" >1920-1¼</text>
<text x="460.30" y="1170.20" font-family="Liberation Sans" font-size="13.43" font-weight="normal" font-style="normal" textLength="83.83" lengthAdjust="spacingAndGlyphs" fill="#000" >804 (900-1¼ )</text>
<text x="577.34" y="1153.40" font-family="Liberation Sans" font-size="17.43" font-weight="normal" font-style="normal" textLength="66.46" lengthAdjust="spacingAndGlyphs" fill="#000" >1920-2¼</text>
<text x="568.70" y="1170.20" font-family="Liberation Sans" font-size="13.43" font-weight="normal" font-style="normal" textLength="83.93" lengthAdjust="spacingAndGlyphs" fill="#000" >804 (900-2 ¼)</text>
<text x="707.80" y="1161.30" font-family="Liberation Sans" font-size="14.78" font-weight="normal" font-style="normal" textLength="20.86" lengthAdjust="spacingAndGlyphs" fill="#000" >NA</text>
<text x="2.25" y="1192.60" font-family="Liberation Sans" font-size="15.14" font-weight="normal" font-style="normal" textLength="113.79" lengthAdjust="spacingAndGlyphs" fill="#000" >MAPLETON, IOWA</text>
<text x="3.30" y="1211.30" font-family="Liberation Sans" font-size="15.51" font-weight="normal" font-style="normal" textLength="84.87" lengthAdjust="spacingAndGlyphs" fill="#000" >Amdt 4 07018</text>
<text x="350.62" y="1197.60" font-family="Liberation Sans" font-size="15.72" font-weight="normal" font-style="normal" textLength="350.15" lengthAdjust="spacingAndGlyphs" fill="#000" >MAPLETON/JAMES G. WHITING MEMORIAL FIELD</text>
<text x="713.03" y="1197.20" font-family="Liberation Serif" font-size="19.24" font-weight="normal" font-style="normal" textLength="62.10" lengthAdjust="spacingAndGlyphs" fill="#000" >(MEY)</text>
<text x="333.61" y="1216.90" font-family="Liberation Sans" font-size="14.14" font-weight="normal" font-style="normal" textLength="109.84" lengthAdjust="spacingAndGlyphs" fill="#000" >42°11’N-95°48’W</text>
<text x="604.46" y="1225.60" font-family="Liberation Sans" font-size="30.43" font-weight="normal" font-style="normal" textLength="170.36" lengthAdjust="spacingAndGlyphs" fill="#000" >NDB RWY 20</text></svg>
</body></html>
